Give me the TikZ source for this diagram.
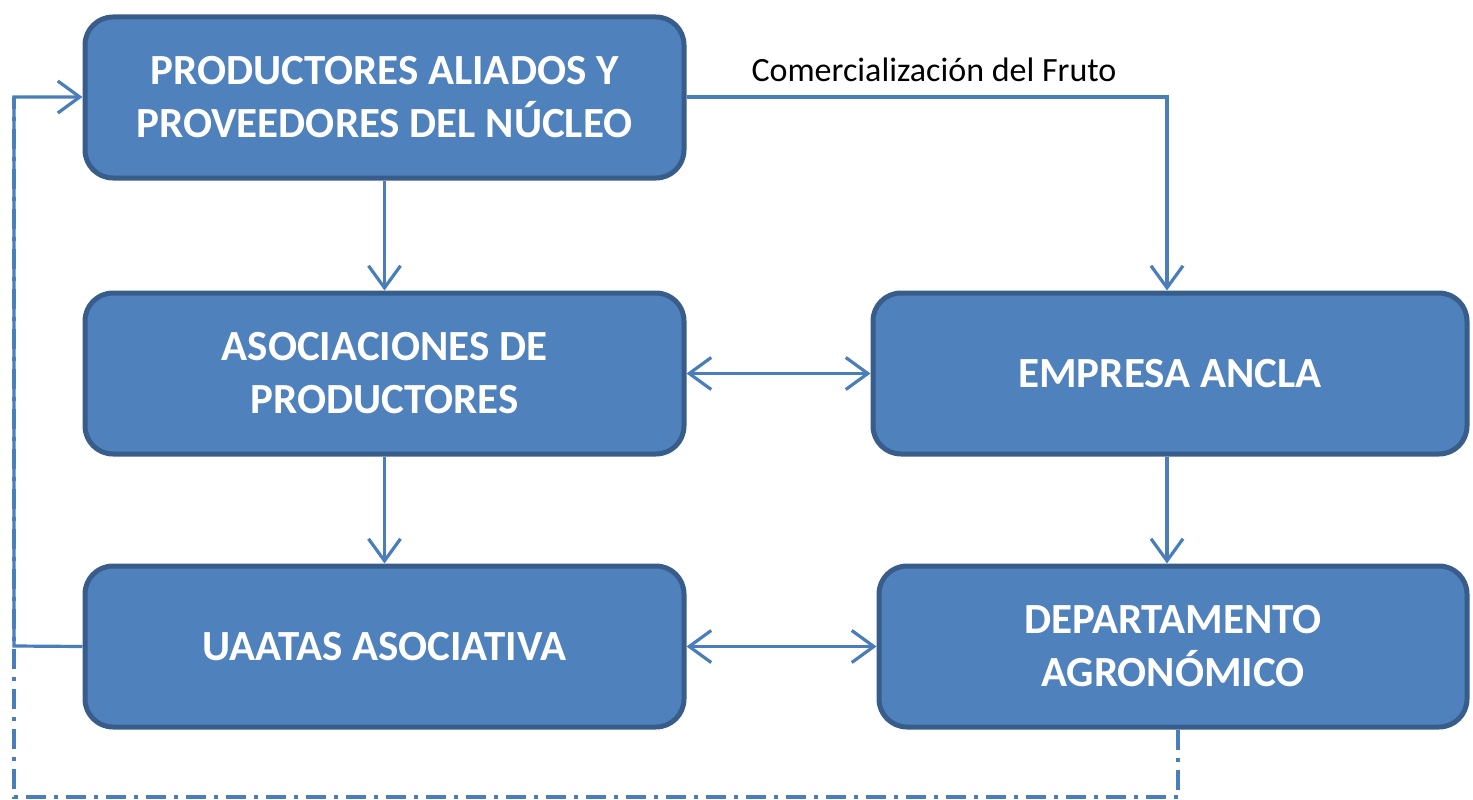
\documentclass[tikz,border=0pt]{standalone}
\usepackage{fontspec}
\setmainfont{Carlito}
\usetikzlibrary{arrows.meta}
\definecolor{boxfill}{RGB}{79,129,189}
\definecolor{boxline}{RGB}{56,93,138}
\definecolor{conn}{RGB}{74,126,187}
\tikzset{
  box/.style={draw=boxline, fill=boxfill, line width=5pt, rounded corners=28pt,
    text=white, align=center, font=\fontsize{43}{53}\selectfont\bfseries,
    inner sep=0pt},
  tip/.tip={Straight Barb[length=22pt,width=32pt,line width=3.2pt]},
  conn/.style={draw=conn, line width=3.2pt, -tip},
  biconn/.style={draw=conn, line width=3.2pt, tip-tip},
  dashdot/.style={draw=conn, line width=3.2pt, dash pattern=on 20pt off 8pt on 4pt off 8pt}
}
\begin{document}
\begin{tikzpicture}[x=1pt,y=-1pt]
\useasboundingbox (0,0) rectangle (1473,800);
\node[box, minimum width=599pt, minimum height=161pt] (prod) at (384.5,97.5) {PRODUCTORES ALIADOS Y\\PROVEEDORES DEL NÚCLEO};
\node[box, minimum width=599pt, minimum height=161pt] (asoc) at (384.5,373.5) {ASOCIACIONES DE\\PRODUCTORES};
\node[box, minimum width=599pt, minimum height=161pt] (uaat) at (384.5,646.5) {UAATAS ASOCIATIVA};
\node[box, minimum width=594pt, minimum height=161pt] (emp) at (1170,373.5) {EMPRESA ANCLA};
\node[box, minimum width=588pt, minimum height=161pt] (dep) at (1173,646.5) {DEPARTAMENTO\\AGRONÓMICO};
\node[font=\fontsize{34}{40}\selectfont, text=black] (lbl) at (934,70) {Comercialización del Fruto};

\coordinate (c1) at (1167,97);
\coordinate (c2) at (14,646);
\coordinate (c3) at (14,97);
\coordinate (d1) at (1178,797);
\coordinate (d2) at (14,797);

\draw[conn] (prod.east |- c1) -- (c1) -- (c1 |- emp.north);
\draw[conn] (prod.south) -- (asoc.north);
\draw[conn] (asoc.south) -- (uaat.north);
\draw[biconn] (asoc.east) -- (emp.west |- asoc.east);
\draw[biconn] (uaat.east) -- (dep.west |- uaat.east);
\draw[conn] (c1 |- emp.south) -- (c1 |- dep.north);
\draw[conn] (uaat.west) -- (c2) -- (c3) -- (prod.west |- c3);
\draw[dashdot] (d1 |- dep.south) -- (d1) -- (d2) -- (c3);
\end{tikzpicture}
\end{document}
